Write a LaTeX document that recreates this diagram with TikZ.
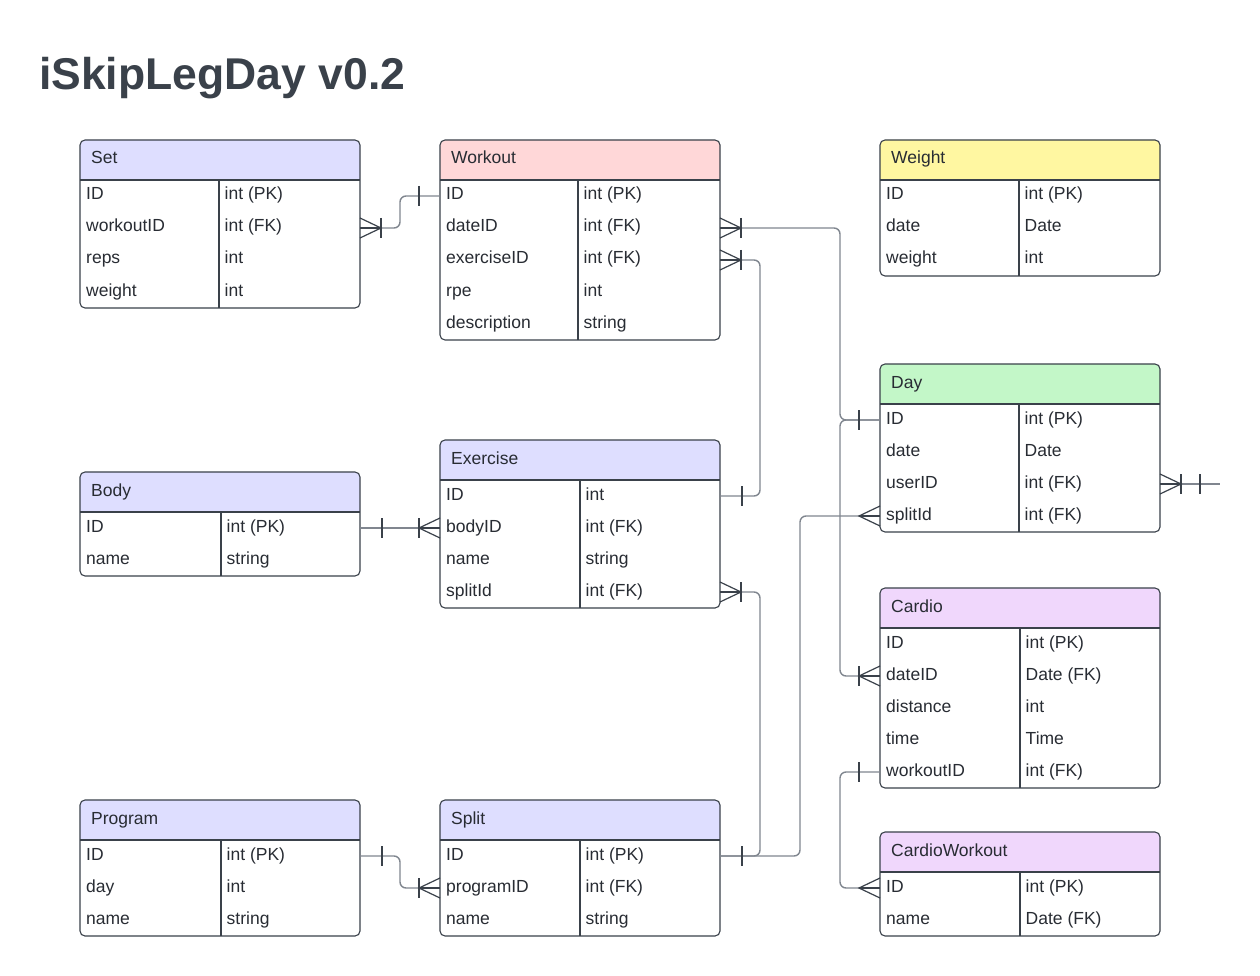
\documentclass[tikz,border=0pt]{standalone}
\usepackage{fontspec}
\setmainfont{Liberation Sans}
\usetikzlibrary{calc}
\definecolor{lav}{HTML}{DEDEFF}
\definecolor{pinkh}{HTML}{FFD7D8}
\definecolor{yelh}{HTML}{FFF7A1}
\definecolor{grnh}{HTML}{C3F7C8}
\definecolor{purh}{HTML}{F0D7FC}
\definecolor{edgec}{HTML}{3A414A}
\definecolor{conn}{HTML}{80868F}
\definecolor{ink}{HTML}{282C33}
\tikzset{
 tbl/.style={draw=edgec, line width=1.1pt},
 rowbox/.style={minimum width=280pt, minimum height=32pt, inner sep=0pt, outer sep=0pt},
 celltxt/.style={inner sep=0pt, anchor=base west, text=ink, font=\fontsize{17.5}{20}\selectfont},
 conline/.style={draw=conn, line width=1.4pt, rounded corners=6pt},
 markline/.style={draw=edgec, line width=1.2pt},
}
\newcommand\erdtab[8]{%
  \fill[#5] (#2,#3+40) [rounded corners=5pt] -- (#2,#3) -- (#2+280,#3) [sharp corners] -- (#2+280,#3+40) -- cycle;
  \node[celltxt] (#1) at (#2+11,#3+24) {#6};
  \foreach[count=\i] \a/\b in {#8} {
    \node[rowbox] (#1-\i) at (#2+140,#3+24+32*\i) {};
    \node[celltxt] (#1-\i-a) at (#2+6,#3+28+32*\i) {\a};
    \node[celltxt] (#1-\i-b) at (#2+#4+5.5,#3+28+32*\i) {\b};
  }
  \draw[tbl] (#2,#3+40) -- (#2+280,#3+40);
  \draw[tbl] (#2+#4,#3+40) -- (#2+#4,#3+40+32*#7);
  \draw[tbl,rounded corners=5pt] (#2,#3) rectangle (#2+280,#3+40+32*#7);
}
\newcommand\crowf[2]{%
  \draw[markline] ($(#1)+(0,-10)$) -- ($(#1)+(#2*21,0)$) -- ($(#1)+(0,10)$);
  \draw[markline] (#1) -- ($(#1)+(#2*21,0)$);
}
\newcommand\barm[3]{%
  \draw[markline] ($(#1)+(#2*#3,-10)$) -- ($(#1)+(#2*#3,10)$);
}
\begin{document}
\begin{tikzpicture}[x=1pt,y=-1pt]
\useasboundingbox (0,0) rectangle (1260,976);
\fill[white] (0,0) rectangle (1260,976);
\node[inner sep=0pt, anchor=base west, text=edgec, font=\fontsize{44.5}{50}\selectfont\bfseries] (title) at (39,90) {iSkipLegDay v0.2};

\erdtab{set}{80}{140}{139}{lav}{Set}{4}{ID/int (PK),workoutID/int (FK),reps/int,weight/int}
\erdtab{workout}{440}{140}{138}{pinkh}{Workout}{5}{ID/int (PK),dateID/int (FK),exerciseID/int (FK),rpe/int,description/string}
\erdtab{weight}{880}{140}{139}{yelh}{Weight}{3}{ID/int (PK),date/Date,weight/int}
\erdtab{day}{880}{364}{139}{grnh}{Day}{4}{ID/int (PK),date/Date,userID/int (FK),splitId/int (FK)}
\erdtab{body}{80}{472}{141}{lav}{Body}{2}{ID/int (PK),name/string}
\erdtab{exercise}{440}{440}{140}{lav}{Exercise}{4}{ID/int,bodyID/int (FK),name/string,splitId/int (FK)}
\erdtab{cardio}{880}{588}{140}{purh}{Cardio}{5}{ID/int (PK),dateID/Date (FK),distance/int,time/Time,workoutID/int (FK)}
\erdtab{program}{80}{800}{141}{lav}{Program}{3}{ID/int (PK),day/int,name/string}
\erdtab{split}{440}{800}{140}{lav}{Split}{3}{ID/int (PK),programID/int (FK),name/string}
\erdtab{cw}{880}{832}{140}{purh}{CardioWorkout}{2}{ID/int (PK),name/Date (FK)}

\coordinate (dayout) at (1220,484);

% connectors
\draw[conline] (set-2.east) -- ++(40,0) |- (workout-1.west);
\draw[conline] (workout-2.east) -- ++(120,0) |- (day-1.west);
\draw[conline] (cardio-2.west) -- ++(-40,0) |- (day-1.west);
\draw[conline] (workout-3.east) -- ++(40,0) |- (exercise-1.east);
\draw[conline] (body-1.east) -- (exercise-2.west);
\draw[conline] (exercise-4.east) -- ++(40,0) |- (split-1.east);
\draw[conline] (day-4.west) -- ++(-80,0) |- (split-1.east);
\draw[conline] (program-1.east) -- ++(40,0) |- (split-2.west);
\draw[conline] (cardio-5.west) -- ++(-40,0) |- (cw-1.west);
\draw[conline] (day-3.east) -- (dayout);

% markers
\crowf{set-2.east}{1} \barm{set-2.east}{1}{21}
\barm{workout-1.west}{-1}{21}
\crowf{workout-2.east}{1} \barm{workout-2.east}{1}{21}
\barm{day-1.west}{-1}{21}
\crowf{cardio-2.west}{-1} \barm{cardio-2.west}{-1}{21}
\crowf{workout-3.east}{1} \barm{workout-3.east}{1}{21}
\barm{exercise-1.east}{1}{22}
\barm{body-1.east}{1}{22}
\crowf{exercise-2.west}{-1} \barm{exercise-2.west}{-1}{21}
\crowf{exercise-4.east}{1} \barm{exercise-4.east}{1}{21}
\barm{split-1.east}{1}{22}
\crowf{day-4.west}{-1}
\barm{program-1.east}{1}{22}
\crowf{split-2.west}{-1} \barm{split-2.west}{-1}{21}
\barm{cardio-5.west}{-1}{21}
\crowf{cw-1.west}{-1}
\crowf{day-3.east}{1} \barm{day-3.east}{1}{21} \barm{day-3.east}{1}{40}
\end{tikzpicture}
\end{document}
